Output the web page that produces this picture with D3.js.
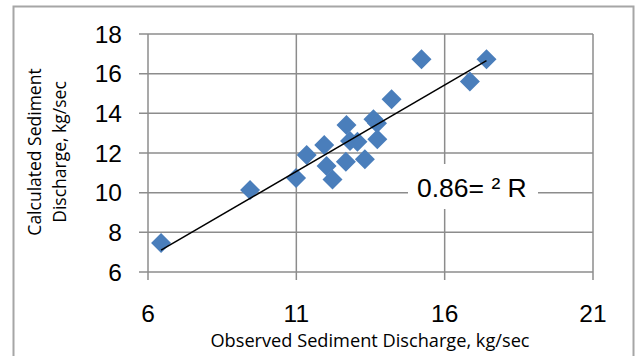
<!DOCTYPE html>
<html>
<head>
<meta charset="utf-8">
<script src="https://cdn.jsdelivr.net/npm/d3@7"></script>
<style>
  html, body { margin: 0; padding: 0; background: #fff; }
  svg { display: block; }
</style>
</head>
<body>
<svg id="chart" width="638" height="356"></svg>
<script>
// Observed vs calculated sediment discharge (kg/sec)
const observed = [6.44, 9.44, 10.99, 11.35, 11.94, 12.02, 12.22, 12.67, 12.69, 12.81,
                  13.06, 13.31, 13.60, 13.72, 13.73, 14.21, 15.22, 16.85, 17.41];
const calculated = [7.46, 10.13, 10.74, 11.90, 12.40, 11.35, 10.67, 11.56, 13.41, 12.60,
                    12.57, 11.68, 13.70, 13.50, 12.69, 14.71, 16.73, 15.60, 16.73];
const xTicks = [6, 11, 16, 21];
const yTicks = [6, 8, 10, 12, 14, 16, 18];
// Linear trendline (calculated = slope * observed + intercept)
const trendSlope = 0.871;
const trendIntercept = 1.49;
const rSquaredLabel = "0.86= \u00B2 R";
const xTitle = "Observed Sediment Discharge, kg/sec";
const yTitleLines = ["Calculated Sediment", "Discharge, kg/sec"];

const svg = d3.select("#chart");
const plot = { left: 148, right: 593, top: 34, bottom: 272 };

const x = d3.scaleLinear().domain([6, 21]).range([plot.left, plot.right]);
const y = d3.scaleLinear().domain([6, 18]).range([plot.bottom, plot.top]);

// outer chart frame
svg.append("rect")
  .attr("x", 13.5).attr("y", 6.5)
  .attr("width", 620).attr("height", 360)
  .attr("fill", "none")
  .attr("stroke", "#a6a6a6")
  .attr("stroke-width", 2);

const gridColor = "#8c8c8c";

// horizontal gridlines (including top border and x axis line)
svg.append("g").selectAll("line").data(yTicks).join("line")
  .attr("x1", x(6) - 9).attr("x2", x(21))
  .attr("y1", d => y(d)).attr("y2", d => y(d))
  .attr("stroke", gridColor).attr("stroke-width", 1.5);

// vertical gridlines with outward ticks
svg.append("g").selectAll("line").data(xTicks).join("line")
  .attr("x1", d => x(d)).attr("x2", d => x(d))
  .attr("y1", y(18)).attr("y2", y(6) + 8)
  .attr("stroke", gridColor).attr("stroke-width", 1.5);

// y tick labels
svg.append("g").selectAll("text").data(yTicks).join("text")
  .attr("x", 122).attr("y", d => y(d))
  .attr("dy", "0.36em")
  .attr("text-anchor", "end")
  .attr("font-family", "'Liberation Sans', Arial, sans-serif")
  .attr("font-size", 24.5)
  .attr("fill", "#000")
  .text(d => d);

// x tick labels
svg.append("g").selectAll("text").data(xTicks).join("text")
  .attr("x", d => x(d)).attr("y", 322)
  .attr("text-anchor", "middle")
  .attr("font-family", "'Liberation Sans', Arial, sans-serif")
  .attr("font-size", 24.5)
  .attr("fill", "#000")
  .text(d => d);

// axis titles
svg.append("text")
  .attr("x", 370).attr("y", 347)
  .attr("text-anchor", "middle")
  .attr("font-family", "'Open Sans', sans-serif")
  .attr("font-size", 18.2)
  .attr("fill", "#000")
  .text(xTitle);

svg.append("g").selectAll("text").data(yTitleLines).join("text")
  .attr("transform", (d, i) => `translate(${41 + i * 25},152) rotate(-90)`)
  .attr("text-anchor", "middle")
  .attr("font-family", "'Open Sans', sans-serif")
  .attr("font-size", 17.5)
  .attr("fill", "#000")
  .text(d => d);

// data markers
const points = observed.map((v, i) => ({ x: v, y: calculated[i] }));
const diamond = d3.symbol().type(d3.symbolSquare).size(200);
svg.append("g").selectAll("path").data(points).join("path")
  .attr("d", diamond)
  .attr("transform", d => `translate(${x(d.x)},${y(d.y)}) rotate(45)`)
  .attr("fill", "#4a7ebb");

// trendline across the observed range
const xMin = d3.min(observed), xMax = d3.max(observed);
svg.append("line")
  .attr("x1", x(xMin)).attr("y1", y(trendSlope * xMin + trendIntercept))
  .attr("x2", x(xMax)).attr("y2", y(trendSlope * xMax + trendIntercept))
  .attr("stroke", "#000").attr("stroke-width", 1.5);

// R-squared label on a white box
svg.append("rect")
  .attr("x", 408).attr("y", 164)
  .attr("width", 130).attr("height", 45)
  .attr("fill", "#fff");
svg.append("text")
  .attr("x", 417).attr("y", 197)
  .attr("font-family", "'Liberation Sans', Arial, sans-serif")
  .attr("font-size", 26.5)
  .attr("fill", "#000")
  .text(rSquaredLabel);
</script>
</body>
</html>
